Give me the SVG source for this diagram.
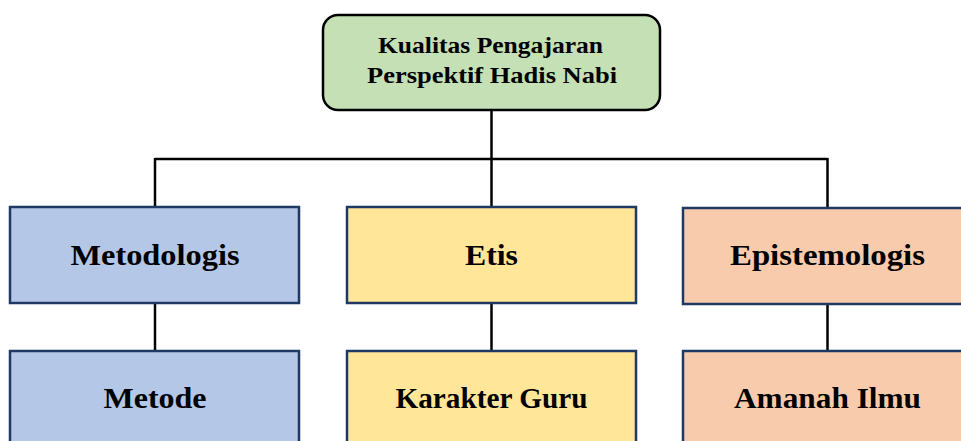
<svg xmlns="http://www.w3.org/2000/svg" width="961" height="441" viewBox="0 0 961 441">
  <style>
    .conn { stroke: #000; stroke-width: 2.5; fill: none; }
    .box { stroke: #1f3864; stroke-width: 2.5; }
    .blue { fill: #b4c7e7; }
    .yellow { fill: #ffe699; }
    .orange { fill: #f8cbad; }
    .root { fill: #c5e0b4; stroke: #000; stroke-width: 2.5; }
    text { font-family: "Liberation Serif", "Times New Roman", serif; font-weight: bold; fill: #000; text-anchor: middle; }
    .t1 { font-size: 24px; }
    .t2 { font-size: 30px; }
  </style>
  <rect width="961" height="441" fill="#fff"/>
  <g id="connectors">
    <line class="conn" x1="491.5" y1="110" x2="491.5" y2="207"/>
    <line class="conn" x1="155" y1="159" x2="827.5" y2="159"/>
    <line class="conn" x1="155" y1="158" x2="155" y2="207"/>
    <line class="conn" x1="827.5" y1="158" x2="827.5" y2="207"/>
    <line class="conn" x1="155" y1="303" x2="155" y2="351"/>
    <line class="conn" x1="491.5" y1="303" x2="491.5" y2="351"/>
    <line class="conn" x1="827.5" y1="303" x2="827.5" y2="351"/>
  </g>
  <g id="root">
    <rect class="root" x="323" y="15" width="337" height="95" rx="15" ry="15"/>
    <text class="t1" x="490.5" y="53" textLength="225" lengthAdjust="spacingAndGlyphs">Kualitas Pengajaran</text>
    <text class="t1" x="492" y="83" textLength="250" lengthAdjust="spacingAndGlyphs">Perspektif Hadis Nabi</text>
  </g>
  <g id="metodologis">
    <rect class="box blue" x="10" y="207" width="289" height="96"/>
    <text class="t2" x="155" y="265" textLength="169" lengthAdjust="spacingAndGlyphs">Metodologis</text>
  </g>
  <g id="etis">
    <rect class="box yellow" x="347" y="207" width="289" height="96"/>
    <text class="t2" x="491.5" y="265" textLength="53" lengthAdjust="spacingAndGlyphs">Etis</text>
  </g>
  <g id="epistemologis">
    <rect class="box orange" x="683" y="208" width="289" height="96"/>
    <text class="t2" x="827.5" y="265" textLength="195" lengthAdjust="spacingAndGlyphs">Epistemologis</text>
  </g>
  <g id="metode">
    <rect class="box blue" x="10" y="351" width="289" height="110"/>
    <text class="t2" x="155" y="408" textLength="103" lengthAdjust="spacingAndGlyphs">Metode</text>
  </g>
  <g id="karakter-guru">
    <rect class="box yellow" x="347" y="351" width="289" height="110"/>
    <text class="t2" x="491.5" y="408" textLength="192" lengthAdjust="spacingAndGlyphs">Karakter Guru</text>
  </g>
  <g id="amanah-ilmu">
    <rect class="box orange" x="683" y="351" width="289" height="110"/>
    <text class="t2" x="827.5" y="408" textLength="187" lengthAdjust="spacingAndGlyphs">Amanah Ilmu</text>
  </g>
</svg>
